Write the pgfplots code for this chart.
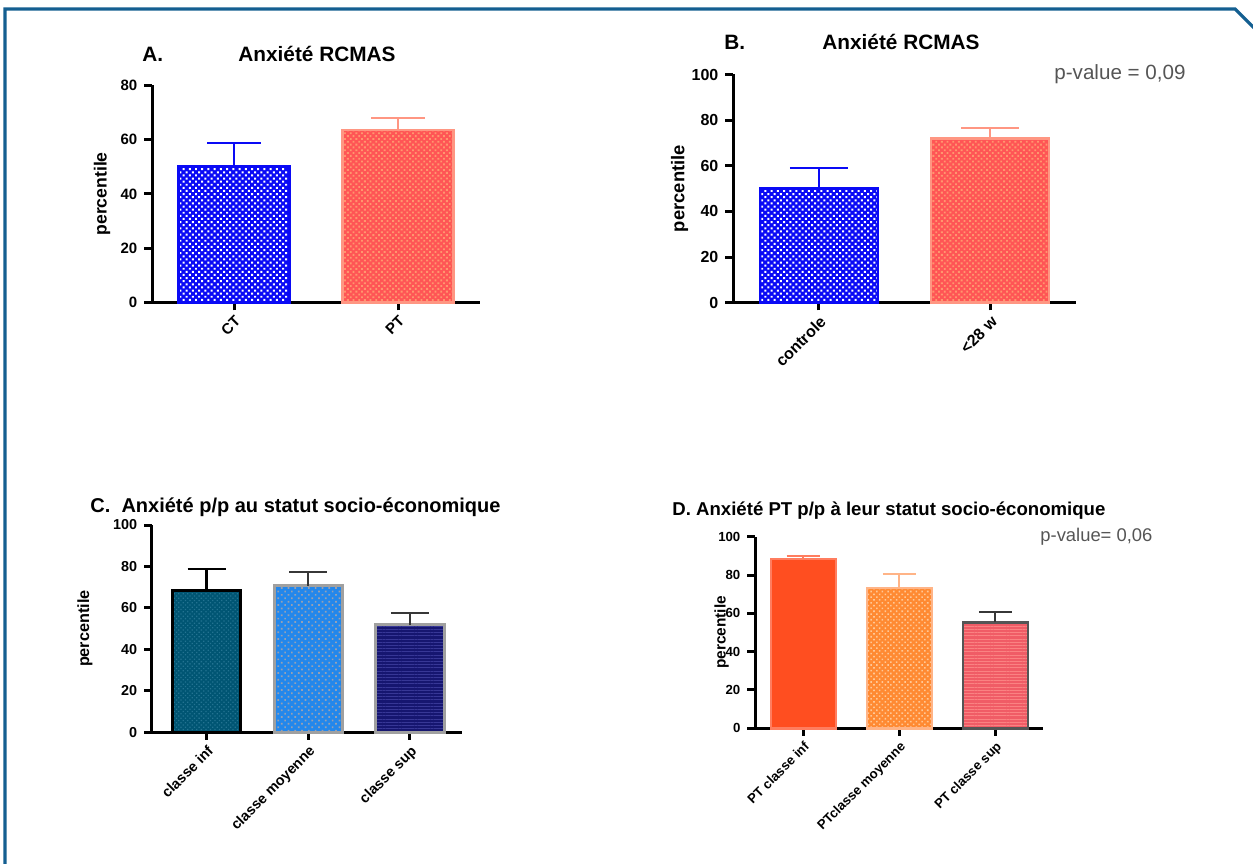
\documentclass[border=0pt]{standalone}
\usepackage{fontspec}
\setmainfont{Liberation Sans}
\usepackage{pgfplots}
\pgfplotsset{compat=1.18}
\usetikzlibrary{patterns.meta}

\definecolor{frameblue}{RGB}{20,95,145}
\definecolor{ctblue}{RGB}{10,10,245}
\definecolor{ptred}{RGB}{255,85,85}
\definecolor{ptdot}{RGB}{255,150,110}
\definecolor{ptedge}{RGB}{255,150,130}
\definecolor{cinf}{RGB}{0,85,115}
\definecolor{cinfdot}{RGB}{35,115,145}
\definecolor{cmoy}{RGB}{35,135,235}
\definecolor{cmoydot}{RGB}{150,160,180}
\definecolor{csup}{RGB}{22,22,112}
\definecolor{csupline}{RGB}{55,55,150}
\definecolor{grayedge}{RGB}{160,160,160}
\definecolor{darkerr}{RGB}{55,55,55}
\definecolor{dinf}{RGB}{255,78,32}
\definecolor{dinfedge}{RGB}{255,125,95}
\definecolor{dmoy}{RGB}{255,138,50}
\definecolor{dmoydot}{RGB}{255,200,150}
\definecolor{dmoyedge}{RGB}{255,180,135}
\definecolor{dsup}{RGB}{240,92,102}
\definecolor{dsupline}{RGB}{250,130,130}
\definecolor{pgray}{RGB}{85,85,85}

\pgfplotsset{
  prism/.style={
    scale only axis,
    axis x line=bottom, axis y line=left,
    axis line style={-, line width=1.5pt, black},
    tick style={line width=1.5pt, black},
    tick align=outside,
    major tick length=3.8pt,
    ymin=0,
    clip=false,
    /pgf/number format/assume math mode=true,
    xticklabel style={rotate=45, anchor=north east, inner sep=1.5pt},
    ylabel={percentile},
  },
  errb/.style n args={2}{error bars/.cd, y dir=plus, y explicit,
    error bar style={line width=1.1pt, color=#1},
    error mark options={rotate=90, line width=1.1pt, mark size=#2, color=#1}},
}

\begin{document}
\begin{tikzpicture}
\useasboundingbox (0,0) rectangle (626.5pt,431.5pt);
\draw[frameblue, line width=1.6pt] (2.5pt,-2pt) -- (2.5pt,427pt) -- (617.5pt,427pt) -- (627.5pt,417pt);

% ---------------- A ----------------
\begin{axis}[prism, at={(76pt,280.15pt)}, anchor=south west,
  width=164pt, height=108.85pt,
  xmin=-0.5, xmax=1.5, ymax=80,
  ytick={0,20,40,60,80},
  xtick={0,1}, xticklabels={CT,PT},
  tick label style={font=\bfseries\fontsize{7.5}{8}\selectfont},
  ylabel style={at={(axis description cs:-0.152,0.5)}, anchor=center, font=\bfseries\fontsize{8.8}{10}\selectfont},
]
\addplot[ybar, bar width=55.5pt, fill=ctblue, draw=ctblue, line width=1.2pt,
  postaction={pattern={Dots[distance=2.2pt, radius=0.7pt, angle=45]}, pattern color=white},
  errb={ctblue}{13.5pt}] coordinates {(0,50.0) +- (0,8.6)};
\addplot[ybar, bar width=55.5pt, fill=ptred, draw=ptedge, line width=1.2pt,
  postaction={pattern={Dots[distance=2pt, radius=0.65pt, angle=45]}, pattern color=ptdot},
  errb={ptedge}{13.5pt}] coordinates {(1,63.5) +- (0,4.5)};
\end{axis}
\node[inner sep=0pt, anchor=base west, font=\bfseries\fontsize{10.4}{12}\selectfont] at (71pt,400.6pt) {A.};
\node[inner sep=0pt, anchor=base west, font=\bfseries\fontsize{10.4}{12}\selectfont] at (119pt,400.6pt) {Anxiété RCMAS};

% ---------------- B ----------------
\begin{axis}[prism, at={(366.5pt,280.15pt)}, anchor=south west,
  width=171.5pt, height=114.1pt,
  xmin=-0.5, xmax=1.5, ymax=100,
  ytick={0,20,40,60,80,100},
  xtick={0,1}, xticklabels={controle,{<28 w}},
  tick label style={font=\bfseries\fontsize{8}{9}\selectfont},
  ylabel style={at={(axis description cs:-0.156,0.5)}, anchor=center, font=\bfseries\fontsize{9.2}{10}\selectfont},
]
\addplot[ybar, bar width=59pt, fill=ctblue, draw=ctblue, line width=1.2pt,
  postaction={pattern={Dots[distance=2.2pt, radius=0.7pt, angle=45]}, pattern color=white},
  errb={ctblue}{14.5pt}] coordinates {(0,50.0) +- (0,9.0)};
\addplot[ybar, bar width=59pt, fill=ptred, draw=ptedge, line width=1.2pt,
  postaction={pattern={Dots[distance=2pt, radius=0.65pt, angle=45]}, pattern color=ptdot},
  errb={ptedge}{14.5pt}] coordinates {(1,71.9) +- (0,4.8)};
\end{axis}
\node[inner sep=0pt, anchor=base west, font=\bfseries\fontsize{10.4}{12}\selectfont] at (362pt,406.5pt) {B.};
\node[inner sep=0pt, anchor=base west, font=\bfseries\fontsize{10.4}{12}\selectfont] at (411pt,406.5pt) {Anxiété RCMAS};
\node[inner sep=0pt, anchor=base west, text=pgray, font=\fontsize{10.3}{12}\selectfont] at (527pt,391.5pt) {p-value = 0,09};

% ---------------- C ----------------
\begin{axis}[prism, at={(75.85pt,65.35pt)}, anchor=south west,
  width=155pt, height=103.65pt,
  xmin=-0.54, xmax=2.51, ymax=100,
  ytick={0,20,40,60,80,100},
  xtick={0,1,2}, xticklabels={classe inf,classe moyenne,classe sup},
  tick label style={font=\bfseries\fontsize{7.2}{8}\selectfont},
  ylabel style={at={(axis description cs:-0.215,0.5)}, anchor=center, font=\bfseries\fontsize{8.1}{9}\selectfont},
]
\addplot[ybar, bar width=34.2pt, fill=cinf, draw=black, line width=1.5pt,
  postaction={pattern={Dots[distance=1.6pt, radius=0.45pt, angle=45]}, pattern color=cinfdot},
  errb={black}{9.5pt}] coordinates {(0,68.6) +- (0,10.2)};
\addplot[ybar, bar width=34.2pt, fill=cmoy, draw=grayedge, line width=1.5pt,
  postaction={pattern={Dots[distance=2.4pt, radius=0.6pt, angle=45]}, pattern color=cmoydot},
  errb={darkerr}{9.5pt}] coordinates {(1,70.6) +- (0,6.9)};
\addplot[ybar, bar width=34.2pt, fill=csup, draw=grayedge, line width=1.5pt,
  postaction={pattern={Lines[distance=1.6pt, angle=0, line width=0.45pt]}, pattern color=csupline},
  errb={darkerr}{9.5pt}] coordinates {(2,51.8) +- (0,5.9)};
\end{axis}
\node[inner sep=0pt, anchor=base west, font=\bfseries\fontsize{10}{12}\selectfont] at (45pt,175.35pt) {C.\ \ Anxiété p/p au statut socio-économique};

% ---------------- D ----------------
\begin{axis}[prism, at={(377.5pt,67.35pt)}, anchor=south west,
  width=144.15pt, height=95.8pt,
  xmin=-0.503, xmax=2.5, ymax=100,
  ytick={0,20,40,60,80,100},
  xtick={0,1,2}, xticklabels={PT classe inf,PTclasse moyenne,PT classe sup},
  tick label style={font=\bfseries\fontsize{6.6}{7.5}\selectfont},
  ylabel style={at={(axis description cs:-0.116,0.5)}, anchor=center, font=\bfseries\fontsize{7.7}{9}\selectfont},
]
\addplot[ybar, bar width=32.6pt, fill=dinf, draw=dinfedge, line width=1.2pt,
  errb={dinfedge}{8.3pt}] coordinates {(0,88.4) +- (0,1.7)};
\addplot[ybar, bar width=32.6pt, fill=dmoy, draw=dmoyedge, line width=1.2pt,
  postaction={pattern={Dots[distance=2pt, radius=0.55pt, angle=45]}, pattern color=dmoydot},
  errb={dmoyedge}{8.2pt}] coordinates {(1,73.1) +- (0,7.4)};
\addplot[ybar, bar width=32.6pt, fill=dsup, draw=pgray, line width=1.2pt,
  postaction={pattern={Lines[distance=1.6pt, angle=0, line width=0.45pt]}, pattern color=dsupline},
  errb={darkerr}{8.2pt}] coordinates {(2,55.3) +- (0,5.6)};
\end{axis}
\node[inner sep=0pt, anchor=base west, font=\bfseries\fontsize{9.3}{11}\selectfont] at (336pt,173.5pt) {D. Anxiété PT p/p à leur statut socio-économique};
\node[inner sep=0pt, anchor=base west, text=pgray, font=\fontsize{9.2}{11}\selectfont] at (520pt,160.65pt) {p-value= 0,06};
\end{tikzpicture}
\end{document}
